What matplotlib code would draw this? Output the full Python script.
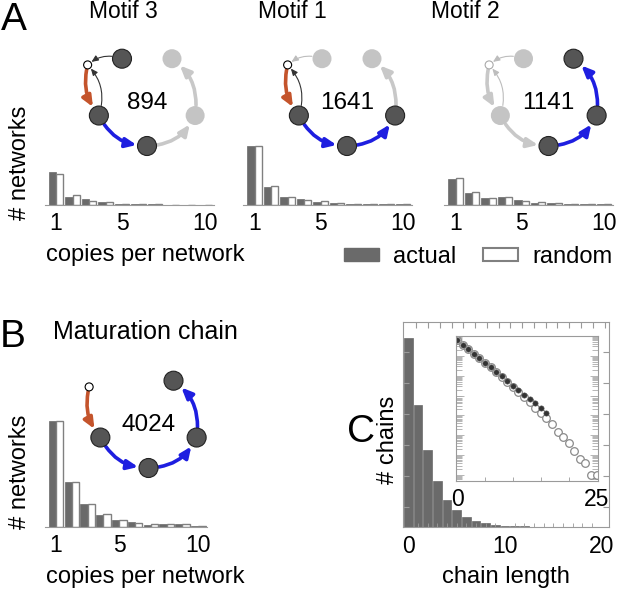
import matplotlib
matplotlib.use('Agg')
import matplotlib.pyplot as plt
import numpy as np
from matplotlib.patches import Circle, FancyArrowPatch, Patch
from matplotlib.ticker import LogLocator, NullFormatter

plt.rcParams['font.family'] = ['Liberation Sans', 'DejaVu Sans']

W, H = 617, 591

# bar heights (arbitrary units, same scale per panel)
copies = np.arange(1, 11)
motif3_actual = [33, 8.4, 5.7, 2.7, 1.4, 0.9, 0.7, 0.5, 0.5, 0.4]
motif3_random = [31, 10, 4.4, 2.7, 1.4, 0.9, 0.7, 0.5, 0.5, 0.4]
motif1_actual = [59, 17.7, 8.3, 5.7, 2.7, 1.7, 1.0, 0.8, 0.7, 0.6]
motif1_random = [59, 19.3, 8.3, 4.7, 3.7, 1.7, 1.0, 0.8, 0.7, 0.6]
motif2_actual = [25.7, 11.7, 7, 8, 5, 2.3, 1.7, 1.3, 1.0, 0.8]
motif2_random = [26.7, 12.7, 7, 8, 3.7, 3.0, 1.7, 1.3, 1.0, 0.8]
matur_actual = [106, 44.7, 22.7, 12, 6.7, 4.7, 2.3, 3.3, 2.7, 1.3]
matur_random = [106, 44.7, 22.7, 12.7, 6.7, 4.0, 3.0, 3.3, 2.7, 1.3]

chain_len = np.arange(20)
chain_count = [189, 122, 77, 46, 27, 17, 10, 6, 4, 2, 1.3, 1, 0.7, 0.5, 0.4,
               0.3, 0.3, 0.2, 0.2, 0.2]

# inset (log scale)
inset_x_actual = np.arange(17)
inset_actual = [6.3e6, 3.7e6, 2.2e6, 1.3e6, 7.6e5, 4.6e5, 2.7e5, 1.6e5, 9.3e4,
                5.5e4, 3.2e4, 1.9e4, 1.1e4, 6.6e3, 4.0e3, 2.3e3, 1.4e3]
inset_x_random = np.arange(26)
inset_random = [6.3e6, 3.7e6, 2.2e6, 1.3e6, 7.6e5, 4.5e5, 2.6e5, 1.5e5, 8.9e4,
                5.0e4, 2.8e4, 1.6e4, 8.5e3, 4.7e3, 2.5e3, 1.3e3, 7.1e2, 3.7e2,
                1.5e2, 79, 39, 17, 6.3, 3.9, 1, 1]

motif_counts = ['894', '1641', '1141']
motif_titles = ['Motif 3', 'Motif 1', 'Motif 2']

ACT = '#6a6a6a'
RND_EDGE = '#808080'
SPINE = '#9a9a9a'


def px(x, y):
    return x / W, 1 - y / H


def add_ax(left, top, right, bottom, **kw):
    return fig.add_axes([left / W, 1 - bottom / H, (right - left) / W, (bottom - top) / H], **kw)


def bar_panel(ax, actual, random, w, ymax):
    ax.bar(copies - w / 2, actual, w, color=ACT, edgecolor=ACT, lw=0.5)
    ax.bar(copies + w / 2, random, w, color='white', edgecolor=RND_EDGE, lw=1.0)
    ax.set_xlim(0.3, 10.55)
    ax.set_ylim(0, ymax)
    for s in ['top', 'right', 'left']:
        ax.spines[s].set_visible(False)
    ax.spines['bottom'].set_color(SPINE)
    ax.spines['bottom'].set_linewidth(0.8)
    ax.set_yticks([])
    ax.set_xticks([1, 5, 10])
    ax.tick_params(axis='x', length=0, pad=5, labelsize=16.5)


fig = plt.figure(figsize=(W / 100, H / 100), dpi=100)

# panel A bars
a_left = [44.5, 243, 444]
a_data = [(motif3_actual, motif3_random), (motif1_actual, motif1_random),
          (motif2_actual, motif2_random)]
for left, (act, rnd) in zip(a_left, a_data):
    ax = add_ax(left, 140, left + 10.25 * 16.5, 205)
    bar_panel(ax, act, rnd, 0.44, 65)

# panel B bars
axb = add_ax(45, 415, 45 + 10.25 * 15.8, 527)
bar_panel(axb, matur_actual, matur_random, 0.46, 112)

# panel C
axc = add_ax(403, 322, 609, 527)
axc.bar(chain_len, chain_count, 0.9, color=ACT, edgecolor=ACT, lw=0.5)
axc.set_xlim(-0.57, 20.78)
axc.set_ylim(0, 205)
for s in axc.spines.values():
    s.set_color(SPINE)
    s.set_linewidth(0.8)
axc.set_xticks([0, 10, 20])
axc.set_xticks(np.arange(0, 21, 1), minor=True)
axc.set_yticks(np.arange(20, 200, 31))
axc.tick_params(axis='y', direction='in', left=True, right=True, labelleft=False,
                length=4, color=SPINE)
axc.tick_params(axis='x', which='both', direction='in', length=3, color=SPINE,
                labelsize=16.5, pad=6)
axc.tick_params(axis='x', which='major', length=0)
top = axc.secondary_xaxis('top')
top.set_xticks(np.arange(0.8, 20.5, 1.22))
top.tick_params(direction='in', length=4, color=SPINE, labeltop=False)
top.spines['top'].set_visible(False)

# inset
axi = add_ax(456, 336, 598, 481)
axi.plot(inset_x_random, inset_random, 'o', ms=5.5, mfc='white', mec='#8a8a8a', mew=0.9)
axi.plot(inset_x_actual, inset_actual, 'o', ms=3.8, mfc='#333333', mec='#555555', mew=0.4)
axi.set_yscale('log')
axi.set_xlim(-0.2, 25.25)
axi.set_ylim(10 ** -0.3, 1e7)
for s in axi.spines.values():
    s.set_color(SPINE)
    s.set_linewidth(0.8)
axi.set_xticks([0, 25])
axi.set_xticks(np.arange(0, 26, 5), minor=True)
axi.yaxis.set_major_locator(LogLocator(base=10, numticks=12))
axi.yaxis.set_minor_locator(LogLocator(base=10, subs=np.arange(2, 10), numticks=12))
axi.yaxis.set_minor_formatter(NullFormatter())
axi.tick_params(axis='y', which='both', direction='in', left=True, right=True,
                labelleft=False, color='#aaaaaa', width=0.6)
axi.tick_params(axis='y', which='major', length=6)
axi.tick_params(axis='y', which='minor', length=4)
axi.tick_params(axis='x', which='both', direction='in', length=3, color=SPINE, labelsize=16.5, pad=5)
axi.tick_params(axis='x', which='major', length=0)

# legend
handles = [Patch(facecolor=ACT, edgecolor=ACT),
           Patch(facecolor='white', edgecolor=RND_EDGE, lw=1.5)]
fig.legend(handles, ['actual', 'random'], ncol=2, loc='center', bbox_to_anchor=px(478, 257),
           frameon=False, fontsize=17, handlelength=1.5, handleheight=0.45,
           handletextpad=0.6, columnspacing=1.1, borderpad=0)

# text
fig.text(*px(14, 20), 'A', fontsize=28, ha='center', va='center')
for xc, t in zip([123, 292.5, 465.5], motif_titles):
    fig.text(*px(xc, 12), t, fontsize=16.5, ha='center', va='center')
fig.text(*px(20, 163), '# networks', fontsize=17, rotation=90, ha='center', va='center')
fig.text(*px(145, 255), 'copies per network', fontsize=17, ha='center', va='center')
fig.text(*px(13, 337), 'B', fontsize=28, ha='center', va='center')
fig.text(*px(145, 332), 'Maturation chain', fontsize=18, ha='center', va='center')
fig.text(*px(20, 472), '# networks', fontsize=17, rotation=90, ha='center', va='center')
fig.text(*px(145, 577), 'copies per network', fontsize=17, ha='center', va='center')
fig.text(*px(361, 432), 'C', fontsize=28, ha='center', va='center')
fig.text(*px(388, 440), '# chains', fontsize=17, rotation=90, ha='center', va='center')
fig.text(*px(506, 577), 'chain length', fontsize=17, ha='center', va='center')

# network diagrams drawn on a pixel-space overlay
ov = fig.add_axes([0, 0, 1, 1], zorder=5)
ov.set_xlim(0, W)
ov.set_ylim(H, 0)
ov.axis('off')

# node layout on the ring: (angle deg, radius px)
ring = {'tl': (120, 50), 'tr': (60, 50), 'r': (-15.7, 50), 'b': (-90, 44),
        'l': (-164.3, 50), 's': (148, 70)}
DARK, LIGHT = '#555555', '#c4c4c4'
edge_style = {
    'orange': dict(color='#c4542c', lw=2.6, ms=8),
    'blue': dict(color='#1e1ee0', lw=2.6, ms=8),
    'gray': dict(color='#c8c8c8', lw=2.6, ms=8),
    'thin': dict(color='#333333', lw=0.8, ms=5),
    'thingray': dict(color='#bdbdbd', lw=0.8, ms=5),
}


def node_xy(cx, cy, key):
    a, r = ring[key]
    return cx + r * np.cos(np.radians(a)), cy - r * np.sin(np.radians(a))


def draw_net(cx, cy, count, nodes, edges, small_col):
    for src, dst, kind, rad in edges:
        st = edge_style[kind]
        p = FancyArrowPatch(node_xy(cx, cy, src), node_xy(cx, cy, dst),
                            connectionstyle='arc3,rad=%s' % rad,
                            arrowstyle='-|>,head_length=0.8,head_width=0.35',
                            mutation_scale=st['ms'], lw=st['lw'], color=st['color'],
                            shrinkA=3.5 if src == 's' else 7.5,
                            shrinkB=3.5 if dst == 's' else 7.5, zorder=2)
        ov.add_patch(p)
    for key, state in nodes.items():
        if state == 'dark':
            c = Circle(node_xy(cx, cy, key), 9.5, fc=DARK, ec='#222222', lw=0.8, zorder=3)
        else:
            c = Circle(node_xy(cx, cy, key), 9.5, fc=LIGHT, ec='none', zorder=3)
        ov.add_patch(c)
    ov.add_patch(Circle(node_xy(cx, cy, 's'), 4, fc='white', ec=small_col, lw=0.8, zorder=3))
    ov.text(cx, cy + 1, count, fontsize=17.5, ha='center', va='center')


draw_net(147, 102, motif_counts[0],
         {'tl': 'dark', 'tr': 'light', 'r': 'light', 'b': 'dark', 'l': 'dark'},
         [('tl', 's', 'thin', 0.3), ('l', 's', 'thin', 0.3), ('s', 'l', 'orange', 0.25),
          ('l', 'b', 'blue', 0.3), ('b', 'r', 'gray', 0.3), ('r', 'tr', 'gray', 0.3)], 'black')
draw_net(347, 102, motif_counts[1],
         {'tl': 'light', 'tr': 'light', 'r': 'dark', 'b': 'dark', 'l': 'dark'},
         [('tl', 's', 'thingray', 0.3), ('l', 's', 'thin', 0.3), ('s', 'l', 'orange', 0.25),
          ('l', 'b', 'blue', 0.3), ('b', 'r', 'blue', 0.3), ('r', 'tr', 'gray', 0.3)], 'black')
draw_net(548.5, 102, motif_counts[2],
         {'tl': 'light', 'tr': 'dark', 'r': 'dark', 'b': 'dark', 'l': 'light'},
         [('tl', 's', 'thingray', 0.3), ('l', 's', 'thingray', 0.3), ('s', 'l', 'gray', 0.25),
          ('l', 'b', 'gray', 0.3), ('b', 'r', 'blue', 0.3), ('r', 'tr', 'blue', 0.3)], '#aaaaaa')
draw_net(148.5, 424, '4024',
         {'tr': 'dark', 'r': 'dark', 'b': 'dark', 'l': 'dark'},
         [('s', 'l', 'orange', 0.25), ('l', 'b', 'blue', 0.3), ('b', 'r', 'blue', 0.3),
          ('r', 'tr', 'blue', 0.3)], 'black')

fig.savefig('out.png', dpi=100)
